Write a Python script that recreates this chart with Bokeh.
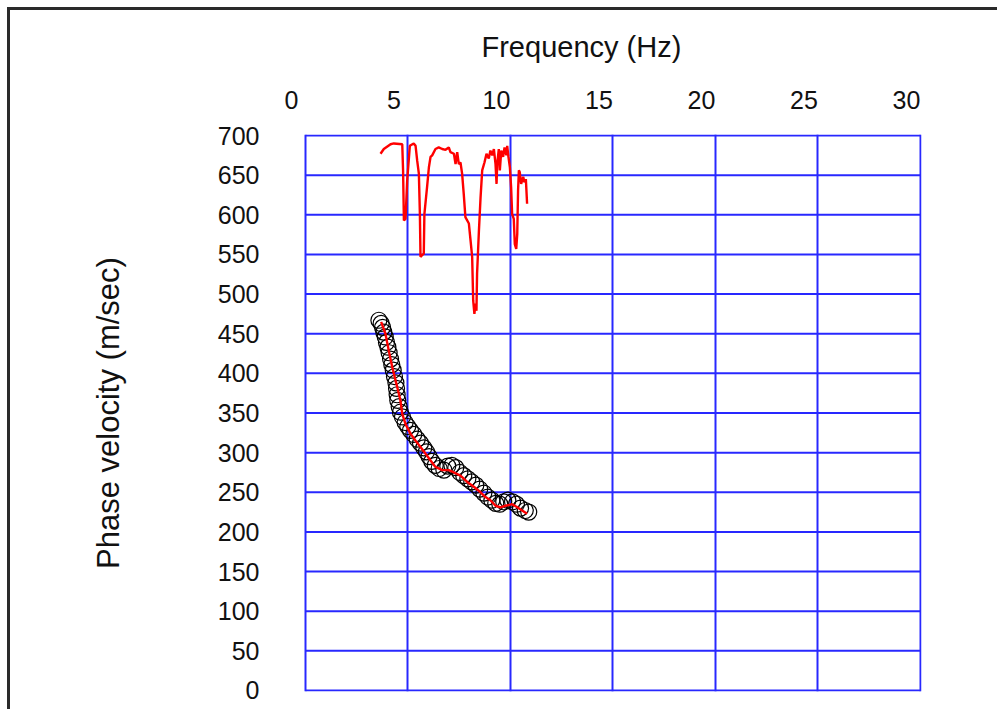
from bokeh.plotting import figure
from bokeh.models import Range1d, LinearAxis, FixedTicker, Grid, InlineStyleSheet
from bokeh.embed import file_html
from bokeh.resources import INLINE

FONT = "Liberation Sans"
BLUE = "#2828ff"

# ---- data ----
x_ticks = [0, 5, 10, 15, 20, 25, 30]
y_ticks = [0, 50, 100, 150, 200, 250, 300, 350, 400, 450, 500, 550, 600, 650, 700]

# upper noisy red curve
upper_f = [3.66, 3.82, 4.15, 4.31, 4.72, 4.76, 4.80, 4.88, 4.96, 5.09, 5.28, 5.37, 5.45, 5.53,
           5.58, 5.61, 5.69, 5.77, 5.80, 5.93, 6.02, 6.10, 6.18, 6.34, 6.50, 6.67, 6.83, 6.99,
           7.07, 7.24, 7.32, 7.40, 7.48, 7.56, 7.64, 7.72, 7.80, 7.97, 8.05, 8.13, 8.18, 8.24,
           8.29, 8.34, 8.37, 8.46, 8.54, 8.62, 8.73, 8.83, 8.94, 9.02, 9.11, 9.19, 9.27, 9.32,
           9.35, 9.43, 9.48, 9.55, 9.64, 9.71, 9.80, 9.84, 9.90, 9.97, 10.03, 10.08, 10.16,
           10.21, 10.28, 10.33, 10.37, 10.41, 10.45, 10.52, 10.62, 10.68, 10.75, 10.81]
upper_v = [677, 683, 689, 690, 689, 656, 593, 595, 643, 687, 690, 687, 668, 652,
           601, 547, 549, 551, 601, 635, 660, 673, 675, 683, 685, 683, 682, 685,
           679, 677, 664, 679, 664, 666, 652, 626, 597, 589, 568, 547, 492, 475,
           488, 479, 526, 580, 622, 656, 666, 677, 671, 681, 675, 683, 664, 639,
           664, 683, 656, 681, 673, 685, 675, 687, 673, 660, 635, 601, 595,
           563, 557, 576, 631, 656, 654, 639, 648, 641, 645, 614]

# measured dispersion points (open circles)
circ_f = [3.58, 3.69, 3.76, 3.82, 3.89, 3.95, 4.02, 4.08, 4.15, 4.21, 4.28, 4.34, 4.41, 4.44,
          4.47, 4.50, 4.57, 4.63, 4.73, 4.86, 4.99, 5.12, 5.28, 5.45, 5.61, 5.77, 5.90, 6.03,
          6.16, 6.33, 6.52, 6.75, 6.94, 7.14, 7.33, 7.53, 7.72, 7.92, 8.11, 8.31, 8.50, 8.70,
          8.89, 9.09, 9.28, 9.48, 9.67, 9.87, 10.10, 10.29, 10.49, 10.72, 10.89]
circ_v = [467, 463, 458, 452, 446, 439, 433, 426, 418, 411, 404, 396, 388, 381,
          373, 366, 358, 351, 345, 338, 333, 328, 323, 317, 312, 306, 301, 295,
          289, 284, 280, 278, 283, 284, 281, 275, 271, 267, 263, 259, 254, 249,
          244, 240, 236, 235, 238, 240, 238, 235, 230, 227, 225]

# fitted red curve through the points
fit_f = [3.69, 3.90, 4.06, 4.23, 4.47, 4.63, 4.72, 4.88, 5.12, 5.37, 5.61, 5.85, 6.10, 6.34,
         6.67, 6.99, 7.24, 7.56, 7.89, 8.21, 8.54, 8.78, 9.02, 9.27, 9.51, 9.76, 10.08, 10.33,
         10.57, 10.81]
fit_v = [465, 450, 429, 408, 383, 366, 349, 336, 324, 315, 307, 299, 290, 282,
         278, 278, 275, 271, 263, 257, 250, 244, 240, 233, 231, 233, 235, 231,
         227, 223]

# ---- figure ----
PX_PER_HZ = 20.5
LEFT_PAD_PX = 14
x_start = -LEFT_PAD_PX / PX_PER_HZ

p = figure(width=997, height=709, output_backend="svg", toolbar_location=None,
           x_axis_location=None, y_axis_location="left",
           x_range=Range1d(x_start, 30.05), y_range=Range1d(-1.3, 701.3),
           min_border_left=291, min_border_right=76, min_border_top=134, min_border_bottom=18,
           background_fill_color="white", border_fill_color="white", outline_line_color=None)

for g in p.grid:
    g.visible = False

p.extra_x_ranges = {"lab": Range1d(0, 30.05 - x_start)}
xax = LinearAxis(x_range_name="lab", ticker=FixedTicker(ticks=x_ticks))
xax.axis_line_color = None
xax.major_tick_line_color = None
xax.minor_tick_line_color = None
xax.major_label_text_font = FONT
xax.major_label_text_font_size = "25px"
xax.major_label_text_color = "#111111"
xax.major_label_standoff = 20
p.add_layout(xax, "above")

yax = p.yaxis[0]
yax.ticker = FixedTicker(ticks=y_ticks)
yax.axis_line_color = None
yax.major_tick_line_color = None
yax.minor_tick_line_color = None
yax.major_label_text_font = FONT
yax.major_label_text_font_size = "25px"
yax.major_label_text_color = "#111111"
yax.major_label_standoff = 26
yax.axis_label = "Phase velocity (m/sec)"
yax.axis_label_text_font = FONT
yax.axis_label_text_font_size = "31px"
yax.axis_label_text_font_style = "normal"
yax.axis_label_text_color = "#111111"
yax.axis_label_standoff = 89

p.title.text = "Frequency (Hz)"
p.title.align = "left"
p.title.offset = 190
p.title.text_font = FONT
p.title.text_font_size = "29px"
p.title.text_font_style = "normal"
p.title.text_color = "#111111"
p.title.standoff = 50

# blue grid box
vgrid = Grid(dimension=0, ticker=FixedTicker(ticks=x_ticks), grid_line_color=BLUE, grid_line_width=2)
p.add_layout(vgrid, "center")
p.segment(x0=x_ticks[0], x1=x_ticks[-1], y0=y_ticks, y1=y_ticks, line_color=BLUE, line_width=2)

# data
p.line(upper_f, upper_v, line_color="#ff0000", line_width=2.4)
p.scatter(circ_f, circ_v, marker="circle", size=16, fill_color=None, line_color="black", line_width=1.2)
p.line(fit_f, fit_v, line_color="#ff0000", line_width=2.4)

# outer picture frame (cropped) drawn with CSS on the plot host element
p.stylesheets = [InlineStyleSheet(css="""
:host { position: relative; }
:host::after {
  content: "";
  position: absolute;
  left: 7px; top: 7px; right: 0; bottom: 0;
  border-left: 3px solid #2a2a2a;
  border-top: 3px solid #2a2a2a;
  pointer-events: none;
}
""")]

open("out.html", "w").write(file_html(p, INLINE))
